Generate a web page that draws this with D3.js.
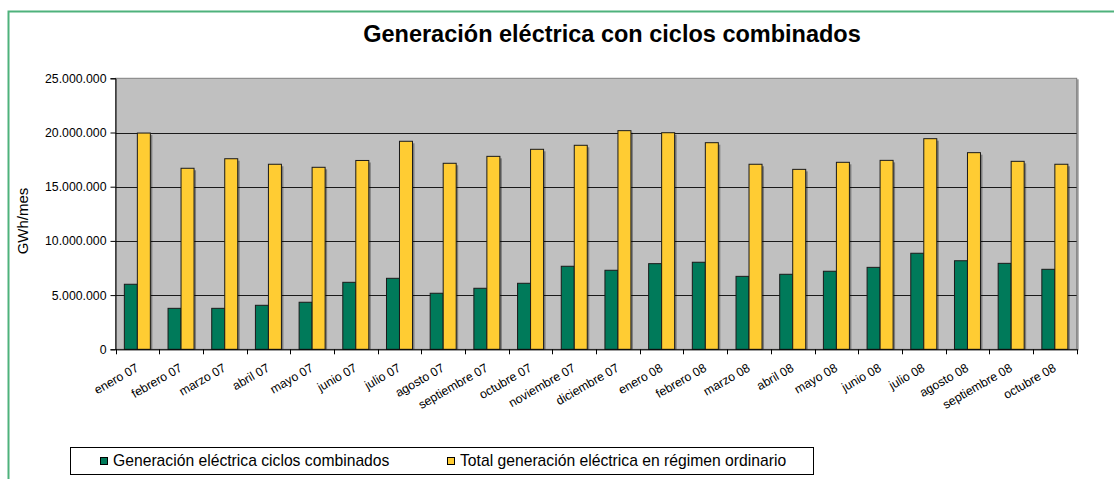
<!DOCTYPE html>
<html>
<head>
<meta charset="utf-8">
<script src="https://cdn.jsdelivr.net/npm/d3@7"></script>
<style>
  body { margin: 0; background: #fff; }
  svg { display: block; font-family: "Liberation Sans", Arial, sans-serif; }
</style>
</head>
<body>
<div id="chart"></div>
<script>
// Datos (GWh/mes)
const months = ['enero 07', 'febrero 07', 'marzo 07', 'abril 07', 'mayo 07', 'junio 07', 'julio 07',
  'agosto 07', 'septiembre 07', 'octubre 07', 'noviembre 07', 'diciembre 07', 'enero 08', 'febrero 08',
  'marzo 08', 'abril 08', 'mayo 08', 'junio 08', 'julio 08', 'agosto 08', 'septiembre 08', 'octubre 08'];

const ciclosCombinados = [6.0e6, 3.78e6, 3.78e6, 4.06e6, 4.34e6, 6.18e6, 6.55e6, 5.17e6, 5.63e6, 6.09e6, 7.66e6,
  7.29e6, 7.9e6, 8.03e6, 6.73e6, 6.92e6, 7.2e6, 7.56e6, 8.86e6, 8.17e6, 7.93e6, 7.38e6];

const totalOrdinario = [19.95e6, 16.7e6, 17.58e6, 17.07e6, 16.79e6, 17.42e6, 19.19e6, 17.16e6, 17.8e6, 18.45e6, 18.82e6,
  20.17e6, 19.98e6, 19.06e6, 17.07e6, 16.6e6, 17.25e6, 17.43e6, 19.43e6, 18.14e6, 17.34e6, 17.07e6];

const seriesNames = ['Generación eléctrica ciclos combinados', 'Total generación eléctrica en régimen ordinario'];
const seriesColors = ['#007a5a', '#ffcc33'];
const yTicks = [0, 5e6, 10e6, 15e6, 20e6, 25e6];

const W = 1114, H = 479;
const plot = { left: 115.5, right: 1076.7, top: 78.3, bottom: 349.3 };

const svg = d3.select('#chart').append('svg')
  .attr('width', W)
  .attr('height', H);

// marco verde exterior
svg.append('path')
  .attr('d', `M8.5,${H} V11.5 H${W}`)
  .attr('fill', 'none')
  .attr('stroke', '#4fb27c')
  .attr('stroke-width', 2);

const x = d3.scaleBand().domain(months).range([plot.left, plot.right]).padding(0);
const xSub = d3.scaleBand().domain([0, 1]).range([0, x.bandwidth()]).paddingInner(0).paddingOuter(0.68);
const y = d3.scaleLinear().domain([0, 25e6]).range([plot.bottom, plot.top]);

const locale = d3.formatLocale({ decimal: ',', thousands: '.', grouping: [3], currency: ['', ''] });
const fmt = locale.format(',');

// fondo del área de trazado
svg.append('rect')
  .attr('x', plot.left + 2).attr('y', plot.top + 1)
  .attr('width', plot.right - plot.left).attr('height', plot.bottom - plot.top)
  .attr('fill', '#9a9a9a');
svg.append('rect')
  .attr('x', plot.left).attr('y', plot.top)
  .attr('width', plot.right - plot.left).attr('height', plot.bottom - plot.top)
  .attr('fill', '#c0c0c0')
  .attr('stroke', '#808080')
  .attr('stroke-width', 1);

// líneas de división
svg.append('g')
  .selectAll('line')
  .data(yTicks.slice(1, -1))
  .join('line')
  .attr('x1', plot.left).attr('x2', plot.right)
  .attr('y1', d => Math.round(y(d)) + 0.5).attr('y2', d => Math.round(y(d)) + 0.5)
  .attr('stroke', '#1a1a1a');

// barras
const data = months.map((m, i) => ({ m, vals: [ciclosCombinados[i], totalOrdinario[i]] }));
const groups = svg.append('g')
  .selectAll('g')
  .data(data)
  .join('g')
  .attr('transform', d => `translate(${x(d.m)},0)`);

groups.selectAll('rect.shadow')
  .data(d => d.vals.map((v, k) => ({ v, k })))
  .join('rect')
  .attr('class', 'shadow')
  .attr('x', d => xSub(d.k) + 2)
  .attr('y', d => y(d.v) + 2)
  .attr('width', xSub.bandwidth())
  .attr('height', d => plot.bottom - y(d.v) - 2)
  .attr('fill', '#000')
  .attr('opacity', 0.35);

groups.selectAll('rect.bar')
  .data(d => d.vals.map((v, k) => ({ v, k })))
  .join('rect')
  .attr('class', 'bar')
  .attr('x', d => xSub(d.k))
  .attr('y', d => y(d.v))
  .attr('width', xSub.bandwidth())
  .attr('height', d => plot.bottom - y(d.v))
  .attr('fill', d => seriesColors[d.k])
  .attr('stroke', '#1a1a1a')
  .attr('stroke-width', 1);

// eje Y
const yAxis = svg.append('g')
  .attr('transform', `translate(${plot.left},0)`)
  .call(d3.axisLeft(y).tickValues(yTicks).tickFormat(fmt).tickSize(5).tickPadding(4));
yAxis.select('.domain').attr('stroke', '#000');
yAxis.selectAll('text').style('font-size', '12.3px').attr('fill', '#000');

// eje X
const xAxis = svg.append('g')
  .attr('transform', `translate(0,${plot.bottom})`)
  .call(d3.axisBottom(x).tickSize(0).tickFormat(''));
xAxis.select('.domain').attr('stroke', '#000');

svg.append('g')
  .selectAll('line')
  .data(months.concat(['__end']))
  .join('line')
  .attr('x1', (d, i) => Math.round(plot.left + i * x.step()) + 0.5)
  .attr('x2', (d, i) => Math.round(plot.left + i * x.step()) + 0.5)
  .attr('y1', plot.bottom).attr('y2', plot.bottom + 5)
  .attr('stroke', '#000');

svg.append('g')
  .selectAll('text')
  .data(months)
  .join('text')
  .attr('transform', d => `translate(${x(d) + x.bandwidth() / 2 + 2},${plot.bottom + 21}) rotate(-30)`)
  .attr('text-anchor', 'end')
  .style('font-size', '12.3px')
  .text(d => d);

// título
svg.append('text')
  .attr('x', 612).attr('y', 42)
  .attr('text-anchor', 'middle')
  .style('font-size', '23.5px')
  .style('font-weight', 'bold')
  .text('Generación eléctrica con ciclos combinados');

// título del eje Y
svg.append('text')
  .attr('transform', `translate(28,221) rotate(-90)`)
  .attr('text-anchor', 'middle')
  .style('font-size', '15px')
  .text('GWh/mes');

// leyenda
const leg = svg.append('g');
leg.append('rect')
  .attr('x', 70.5).attr('y', 447.5)
  .attr('width', 743).attr('height', 27)
  .attr('fill', '#fff')
  .attr('stroke', '#000');

const legX = [100, 447];
seriesNames.forEach((name, i) => {
  leg.append('rect')
    .attr('x', legX[i] + 0.5).attr('y', 457.5)
    .attr('width', 7).attr('height', 7)
    .attr('fill', seriesColors[i])
    .attr('stroke', '#000');
  leg.append('text')
    .attr('x', legX[i] + 13).attr('y', 466)
    .style('font-size', '15.7px')
    .text(name);
});
</script>
</body>
</html>
